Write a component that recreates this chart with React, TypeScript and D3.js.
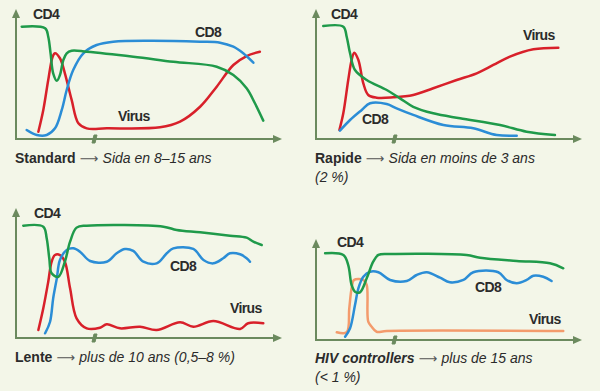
import * as d3 from "d3";

type Pt = [number, number];

// values: x = time (0-100), y = level (0-100)
const standardCd4: Pt[] = [[2.2, 90.6], [11.2, 89.3], [12.4, 82.5], [13.3, 69.1], [14.3, 53], [15.7, 47], [16.9, 51.6], [18.2, 63.7], [19.5, 69.1], [21.4, 71.2], [27.2, 70.4], [45.1, 66.4], [60.5, 62.3], [77.2, 58.3], [83.6, 51.6], [88.7, 40.9], [91.9, 28.8], [95.1, 14.8]];
const standardCd8: Pt[] = [[4.1, 7.3], [8, 3.2], [11.8, 3.2], [15, 8.6], [17.6, 23.4], [19.5, 39.5], [22, 55.6], [25.9, 69.1], [31, 75.8], [37.4, 78.5], [51.5, 79.3], [70.8, 78.5], [78.5, 77.7], [83.6, 74.4], [87.4, 69.1], [91.3, 61.5]];
const standardVirus: Pt[] = [[8.6, 5.9], [10.5, 23.4], [12.4, 47.6], [14.1, 66.4], [15, 69.1], [16.9, 65.1], [18.8, 53], [21.4, 31.5], [24, 12.7], [27.2, 8.6], [34.9, 8.6], [55.4, 9.4], [63.1, 14], [70.8, 26], [77.2, 42.2], [83.6, 59.7], [88.7, 66.9], [93.8, 70.4]];

const rapideCd4: Pt[] = [[2.8, 91.1], [10.5, 90.6], [11.8, 82.5], [13.1, 69.1], [15, 55.6], [19.5, 47.6], [27.2, 39.5], [32.3, 32.8], [37.4, 26], [45.1, 20.7], [55.4, 16.7], [70.8, 11.3], [81, 5.9], [91.9, 3.2]];
const rapideCd8: Pt[] = [[9.2, 6.7], [13.1, 15.3], [17.6, 23.4], [20.8, 28.8], [27.2, 28.2], [31, 24.7], [37.4, 19.4], [49, 11.3], [60.5, 8.6], [69.5, 3.2], [77.2, 2.7]];
const rapideVirus: Pt[] = [[9, 7.3], [10.5, 20.7], [12.4, 47.6], [13.7, 63.7], [14.7, 69.6], [16.3, 63.7], [18.2, 44.9], [20.1, 35.5], [23.3, 33.3], [29.7, 33.6], [37.4, 35.5], [45.1, 40.9], [54.1, 47.6], [61.8, 53], [68.2, 59.7], [74.6, 66.4], [83.6, 72.3], [93.2, 73.6]];

const lenteCd4: Pt[] = [[2.8, 90.6], [10.5, 89.8], [11.8, 80.4], [12.8, 64.3], [13.7, 52.2], [16.3, 49.4], [18.8, 61.5], [20.8, 77.7], [23.3, 89], [27.2, 90.6], [56.7, 89.8], [61.8, 87.1], [70.8, 85.2], [82.3, 82.5], [88.7, 80.9], [91.3, 77.7], [94.5, 75]];
const lenteCd8: Pt[] = [[11.2, 3.8], [13.1, 13.1], [14.3, 32], [15.7, 48.1], [16.9, 62.9], [19.5, 71], [22, 72.3], [24.6, 69.6], [28.5, 62.1], [34.9, 61.5], [38.7, 68.3], [41.9, 71.8], [45.1, 70.2], [49, 61.5], [54.1, 60.2], [58, 68.3], [60.5, 72.3], [68.2, 71.8], [72.1, 62.9], [75.9, 60.2], [79.7, 64.3], [82.3, 68.3], [86.2, 67.5], [88.7, 64.3], [90, 61.5]];
const lenteVirus: Pt[] = [[8.6, 6.5], [10.5, 24], [12.4, 45.4], [13.7, 61.5], [15, 66.9], [16.9, 66.9], [18.8, 61.5], [20.8, 40.1], [23.3, 15.9], [27.2, 7.8], [32.3, 8.3], [34.9, 11], [40, 7.8], [47.7, 9.1], [54.1, 6.5], [63.1, 12.7], [68.2, 9.1], [75.9, 13.7], [86.2, 7.3], [89.3, 11.9], [95.1, 11.9]];

const controllerCd4: Pt[] = [[3.5, 91.3], [10.5, 89.5], [12.4, 78.9], [13.7, 57.9], [15, 50.8], [16.9, 50.2], [19.5, 64.9], [22, 82.5], [24, 89.5], [28.5, 90.5], [57.9, 89.5], [63.1, 86.6], [77.2, 83.2], [90, 80.7], [95.1, 75.5]];
const controllerCd8: Pt[] = [[11.2, 3.5], [13.1, 12.3], [15, 36.8], [16.3, 54.4], [18.2, 66.6], [20.8, 71.9], [24, 71.3], [28.5, 63.2], [34.9, 62.1], [38.7, 68.4], [42.6, 71.3], [47.7, 65.6], [51.5, 60.7], [56.7, 63.2], [60.5, 71.3], [70.1, 71.3], [73.3, 63.2], [77.2, 59.7], [81, 63.2], [83.6, 67.7], [87.4, 66.6], [90.6, 62.1]];
const controllerVirus: Pt[] = [[8, 8.1], [11.8, 8.1], [12.8, 33.4], [13.7, 54.4], [14.6, 63.2], [18.2, 63.2], [19.5, 57.9], [20.1, 19.3], [21.4, 14], [23.3, 8.7], [27.2, 9.5], [95.1, 9.5]];

const colors = { cd4: "#1f9a4a", cd8: "#2b8dd6", virus: "#d8202a", virusLow: "#f39b6c" };
const axisColor = "#6b8a5e";
const ink = "#2b2b2b";
const font = "'Liberation Sans', Arial, sans-serif";

type Seg = { text: string; bold?: boolean; italic?: boolean; arrow?: boolean };
type Label = { text: string; x: number; y: number };
type PanelSpec = {
  ox: number;
  oy: number;
  axisY: number;
  h: number;
  series: { data: Pt[]; color: string }[];
  labels: Label[];
  caption: Seg[][];
  captionY: number;
};

const arrow: Seg = { text: " ⟶ ", arrow: true };

const panels: PanelSpec[] = [
  {
    ox: 0, oy: 0, axisY: 139, h: 124,
    series: [{ data: standardVirus, color: colors.virus }, { data: standardCd8, color: colors.cd8 }, { data: standardCd4, color: colors.cd4 }],
    labels: [{ text: "CD4", x: 33, y: 19 }, { text: "CD8", x: 195, y: 37 }, { text: "Virus", x: 118, y: 121 }],
    caption: [[{ text: "Standard", bold: true }, arrow, { text: "Sida en 8–15 ans", italic: true }]],
    captionY: 163
  },
  {
    ox: 300, oy: 0, axisY: 139, h: 124,
    series: [{ data: rapideVirus, color: colors.virus }, { data: rapideCd8, color: colors.cd8 }, { data: rapideCd4, color: colors.cd4 }],
    labels: [{ text: "CD4", x: 31, y: 19 }, { text: "Virus", x: 223, y: 40 }, { text: "CD8", x: 62, y: 124 }],
    caption: [[{ text: "Rapide", bold: true }, arrow, { text: "Sida en moins de 3 ans", italic: true }], [{ text: "(2 %)", italic: true }]],
    captionY: 163
  },
  {
    ox: 0, oy: 195, axisY: 143, h: 124,
    series: [{ data: lenteVirus, color: colors.virus }, { data: lenteCd8, color: colors.cd8 }, { data: lenteCd4, color: colors.cd4 }],
    labels: [{ text: "CD4", x: 34, y: 23 }, { text: "CD8", x: 170, y: 76 }, { text: "Virus", x: 230, y: 118 }],
    caption: [[{ text: "Lente", bold: true }, arrow, { text: "plus de 10 ans (0,5–8 %)", italic: true }]],
    captionY: 167
  },
  {
    ox: 300, oy: 195, axisY: 145, h: 95,
    series: [{ data: controllerVirus, color: colors.virusLow }, { data: controllerCd8, color: colors.cd8 }, { data: controllerCd4, color: colors.cd4 }],
    labels: [{ text: "CD4", x: 37, y: 52 }, { text: "CD8", x: 175, y: 97 }, { text: "Virus", x: 229, y: 129 }],
    caption: [[{ text: "HIV controllers", bold: true, italic: true }, arrow, { text: "plus de 15 ans", italic: true }], [{ text: "(< 1 %)", italic: true }]],
    captionY: 168
  }
];

function Panel({ spec }: { spec: PanelSpec }) {
  const x = d3.scaleLinear([0, 100], [16, 276]);
  const y = d3.scaleLinear([0, 100], [spec.axisY, spec.axisY - spec.h]);
  const line = d3
    .line<Pt>()
    .x((d) => x(d[0]))
    .y((d) => y(d[1]))
    .curve(d3.curveCatmullRom.alpha(0.5));
  const top = spec.axisY - spec.h - 6;
  const right = 282;
  const breakX = x(30);

  return (
    <g transform={`translate(${spec.ox},${spec.oy})`}>
      <line x1={16} x2={16} y1={spec.axisY} y2={top + 6} stroke={axisColor} strokeWidth={2} />
      <path d={`M16,${top} L12,${top + 9} L20,${top + 9} Z`} fill={axisColor} />
      <line x1={15} x2={right - 6} y1={spec.axisY} y2={spec.axisY} stroke={axisColor} strokeWidth={2} />
      <path d={`M${right},${spec.axisY} L${right - 9},${spec.axisY - 4} L${right - 9},${spec.axisY + 4} Z`} fill={axisColor} />
      <path
        d={`M${breakX - 2},${spec.axisY + 4} L${breakX},${spec.axisY - 4} L${breakX + 3},${spec.axisY - 4} L${breakX + 1},${spec.axisY + 4} Z`}
        fill={axisColor}
        stroke={axisColor}
        strokeWidth={1}
      />
      {spec.series.map((s, i) => (
        <path key={i} d={line(s.data) ?? undefined} fill="none" stroke={s.color} strokeWidth={2.5} strokeLinejoin="round" strokeLinecap="round" />
      ))}
      {spec.labels.map((l) => (
        <text key={l.text} x={l.x} y={l.y} fontFamily={font} fontWeight="bold" fontSize={14} fill={ink} letterSpacing={-0.6}>
          {l.text}
        </text>
      ))}
      {spec.caption.map((row, r) => (
        <text key={r} x={15} y={spec.captionY + r * 19} fontFamily={font} fontSize={14} fill={ink}>
          {row.map((seg, k) => (
            <tspan
              key={k}
              fontFamily={seg.arrow ? "'DejaVu Sans', sans-serif" : undefined}
              fontSize={seg.arrow ? 13 : undefined}
              fontWeight={seg.bold ? "bold" : "normal"}
              fontStyle={seg.italic ? "italic" : "normal"}
              fill={seg.arrow ? "#555" : undefined}
            >
              {seg.text}
            </tspan>
          ))}
        </text>
      ))}
    </g>
  );
}

export default function App() {
  return (
    <svg
      width={600}
      height={391}
      viewBox="0 0 600 391"
      style={{ position: "absolute", left: 0, top: 0, background: "#f3f6e8" }}
    >
      <rect x={0} y={0} width={600} height={391} fill="#f3f6e8" />
      {panels.map((p, i) => (
        <Panel key={i} spec={p} />
      ))}
    </svg>
  );
}
